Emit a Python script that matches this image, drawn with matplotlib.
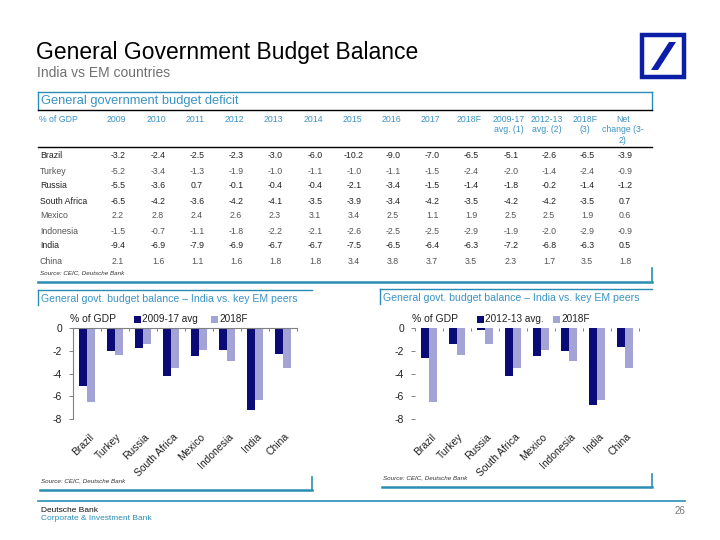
import numpy as np
import matplotlib
matplotlib.use("Agg")
import matplotlib.pyplot as plt
from matplotlib.lines import Line2D
from matplotlib.patches import Rectangle, Polygon

plt.rcParams['font.family'] = ['Liberation Sans', 'DejaVu Sans']

# ---------------- data ----------------
countries = ['Brazil', 'Turkey', 'Russia', 'South Africa', 'Mexico', 'Indonesia', 'India', 'China']
table_headers = ['2009', '2010', '2011', '2012', '2013', '2014', '2015', '2016', '2017', '2018F',
                 '2009-17\navg. (1)', '2012-13\navg. (2)', '2018F\n(3)', 'Net\nchange (3-\n2)']
row_brazil = ['-3.2', '-2.4', '-2.5', '-2.3', '-3.0', '-6.0', '-10.2', '-9.0', '-7.0', '-6.5', '-5.1', '-2.6', '-6.5', '-3.9']
row_turkey = ['-5.2', '-3.4', '-1.3', '-1.9', '-1.0', '-1.1', '-1.0', '-1.1', '-1.5', '-2.4', '-2.0', '-1.4', '-2.4', '-0.9']
row_russia = ['-5.5', '-3.6', '0.7', '-0.1', '-0.4', '-0.4', '-2.1', '-3.4', '-1.5', '-1.4', '-1.8', '-0.2', '-1.4', '-1.2']
row_safrica = ['-6.5', '-4.2', '-3.6', '-4.2', '-4.1', '-3.5', '-3.9', '-3.4', '-4.2', '-3.5', '-4.2', '-4.2', '-3.5', '0.7']
row_mexico = ['2.2', '2.8', '2.4', '2.6', '2.3', '3.1', '3.4', '2.5', '1.1', '1.9', '2.5', '2.5', '1.9', '0.6']
row_indonesia = ['-1.5', '-0.7', '-1.1', '-1.8', '-2.2', '-2.1', '-2.6', '-2.5', '-2.5', '-2.9', '-1.9', '-2.0', '-2.9', '-0.9']
row_india = ['-9.4', '-6.9', '-7.9', '-6.9', '-6.7', '-6.7', '-7.5', '-6.5', '-6.4', '-6.3', '-7.2', '-6.8', '-6.3', '0.5']
row_china = ['2.1', '1.6', '1.1', '1.6', '1.8', '1.8', '3.4', '3.8', '3.7', '3.5', '2.3', '1.7', '3.5', '1.8']
table_rows = [row_brazil, row_turkey, row_russia, row_safrica, row_mexico, row_indonesia, row_india, row_china]

avg_2009_17 = [-5.1, -2.0, -1.8, -4.2, -2.5, -1.9, -7.2, -2.3]
avg_2012_13 = [-2.6, -1.4, -0.2, -4.2, -2.5, -2.0, -6.8, -1.7]
f_2018 = [-6.5, -2.4, -1.4, -3.5, -1.9, -2.9, -6.3, -3.5]
yticks = [0, -2, -4, -6, -8]

# ---------------- styling ----------------
W, H = 720, 540
TEAL = '#2a8db5'
HEAD = '#3b93c4'
DARK = '#0b0b78'
LIGHT = '#a3a3d6'
BLUE = '#0a1ea8'

fig = plt.figure(figsize=(7.2, 5.4), dpi=100)
fig.patch.set_facecolor('white')

def fx(x): return x / W
def fy(y): return 1 - y / H
def txt(x, y, s, **kw):
    fig.text(fx(x), fy(y), s, **kw)
def hline(x0, x1, y, color=TEAL, lw=1.0):
    fig.add_artist(Line2D([fx(x0), fx(x1)], [fy(y), fy(y)], color=color, lw=lw, transform=fig.transFigure))
def vline(x, y0, y1, color=TEAL, lw=1.0):
    fig.add_artist(Line2D([fx(x), fx(x)], [fy(y0), fy(y1)], color=color, lw=lw, transform=fig.transFigure))

# Title
txt(36, 52, 'General Government Budget Balance', fontsize=16.5, color='black', va='center', ha='left')
txt(37, 73, 'India vs EM countries', fontsize=10, color='#707070', va='center', ha='left')

# Logo
fig.add_artist(Rectangle((fx(642), fy(77)), fx(684) - fx(642), fy(35) - fy(77), transform=fig.transFigure,
                         facecolor='white', edgecolor=BLUE, lw=3.2))
fig.add_artist(Polygon([[fx(651), fy(70)], [fx(658), fy(70)], [fx(676), fy(42)], [fx(669), fy(42)]],
                       closed=True, transform=fig.transFigure, facecolor=BLUE, edgecolor='none'))

# ---------------- table ----------------
hline(38, 652, 92, TEAL, 1.0)
vline(38, 92, 110, TEAL, 1.0)
vline(652, 92, 110, TEAL, 1.0)
hline(38, 652, 110, 'black', 1.0)
txt(41, 101, 'General government budget deficit', fontsize=9.3, color=HEAD, va='center')
col_x = [116, 156, 195, 234, 273, 313, 352, 391, 430, 469, 509, 547, 585, 623]
txt(39, 119.5, '% of GDP', fontsize=6.3, color=HEAD, va='center', ha='left')
for x, h in zip(col_x, table_headers):
    txt(x, 114.5, h, fontsize=6.3, color=HEAD, va='top', ha='center', linespacing=1.25)
hline(38, 652, 147, 'black', 1.0)
row_y = [156, 171, 186, 201, 216, 231, 246, 261]
for i, (c, r) in enumerate(zip(countries, table_rows)):
    strong = c in ('Brazil', 'Russia', 'South Africa', 'India')
    col = '#222222' if strong else '#555555'
    txt(40, row_y[i], c, fontsize=6.3, color=col, va='center', ha='left')
    for x, v in zip(col_x, r):
        txt(x + 2, row_y[i], v, fontsize=6.3, color=col, va='center', ha='center')
txt(40, 273, 'Source: CEIC, Deutsche Bank', fontsize=4.5, style='italic', color='#333333', va='center')
hline(38, 652, 282, TEAL, 1.8)
vline(652, 268, 282, TEAL, 1.2)

# ---------------- charts ----------------
def chart(left_px, title_x0, title_x1, title_y, bottom_y, series1, label1, leg1_x, leg2_x, spines):
    hline(title_x0, title_x1, title_y, TEAL, 1.0)
    vline(title_x0, title_y, title_y + 15, TEAL, 1.0)
    hline(title_x0 + 2, title_x1, bottom_y, TEAL, 1.8)
    vline(title_x1, bottom_y - 13, bottom_y, TEAL, 1.2)
    txt(title_x0 + 3, title_y + 9, 'General govt. budget balance \u2013 India vs. key EM peers',
        fontsize=7.6, color=HEAD, va='center', ha='left')
    txt(title_x0 + 3, bottom_y - 9, 'Source: CEIC, Deutsche Bank', fontsize=4.5, style='italic',
        color='#333333', va='center')

    ax_top = 328
    ax_bot = 419
    ax = fig.add_axes([fx(left_px), fy(ax_bot), 224 / W, (ax_bot - ax_top) / H])
    x = np.arange(len(countries))
    w = 0.29
    ax.bar(x - w / 2, series1, width=w, color=DARK, edgecolor='none')
    ax.bar(x + w / 2, f_2018, width=w, color=LIGHT, edgecolor='none')
    ax.set_ylim(-8, 0)
    ax.set_xlim(-0.5, len(countries) - 0.5)
    ax.set_yticks(yticks)
    ax.set_yticklabels([str(t) for t in yticks], fontsize=7.5, color='#222222')
    ax.set_xticks([])
    ax.set_xticks(np.arange(len(countries) + 1) - 0.5, minor=True)
    ax.tick_params(axis='x', which='minor', top=True, bottom=False, direction='in', length=2.5,
                   color='#808080', width=0.7)
    ax.tick_params(axis='y', length=3, color='#808080', width=0.7, pad=5)
    for s in ['right', 'bottom']:
        ax.spines[s].set_visible(False)
    for s in ['left', 'top']:
        ax.spines[s].set_visible(spines)
        ax.spines[s].set_color('#808080')
        ax.spines[s].set_linewidth(0.8)
    for i, c in enumerate(countries):
        ax.annotate(c, xy=(i, 0), xycoords=('data', 'axes fraction'), xytext=(1, -9),
                    textcoords='offset points', rotation=45, ha='right', va='top',
                    rotation_mode='anchor', fontsize=7.5, color='#222222')
    txt(left_px - 3, 319, '% of GDP', fontsize=7.5, color='#222222', va='center', ha='left')
    fig.add_artist(Rectangle((fx(leg1_x), fy(323)), 7 / W, 7 / H, transform=fig.transFigure,
                             facecolor=DARK, edgecolor='none'))
    txt(leg1_x + 8, 319.5, label1, fontsize=7.2, color='#222222', va='center', ha='left')
    fig.add_artist(Rectangle((fx(leg2_x), fy(323)), 7 / W, 7 / H, transform=fig.transFigure,
                             facecolor=LIGHT, edgecolor='none'))
    txt(leg2_x + 8, 319.5, '2018F', fontsize=7.2, color='#222222', va='center', ha='left')
    return ax

chart(73, 38, 312, 290, 490, avg_2009_17, '2009-17 avg', 134, 211, True)
chart(415, 380, 652, 289, 487, avg_2012_13, '2012-13 avg.', 477, 553, False)

# ---------------- footer ----------------
hline(38, 685, 501, TEAL, 1.2)
txt(41, 510, 'Deutsche Bank', fontsize=6, color='#111111', va='center', ha='left')
txt(41, 519, 'Corporate & Investment Bank', fontsize=6, color=TEAL, va='center', ha='left')
txt(685, 511, '26', fontsize=7, color='#777777', va='center', ha='right')

fig.savefig('out.png', dpi=100, facecolor='white')
